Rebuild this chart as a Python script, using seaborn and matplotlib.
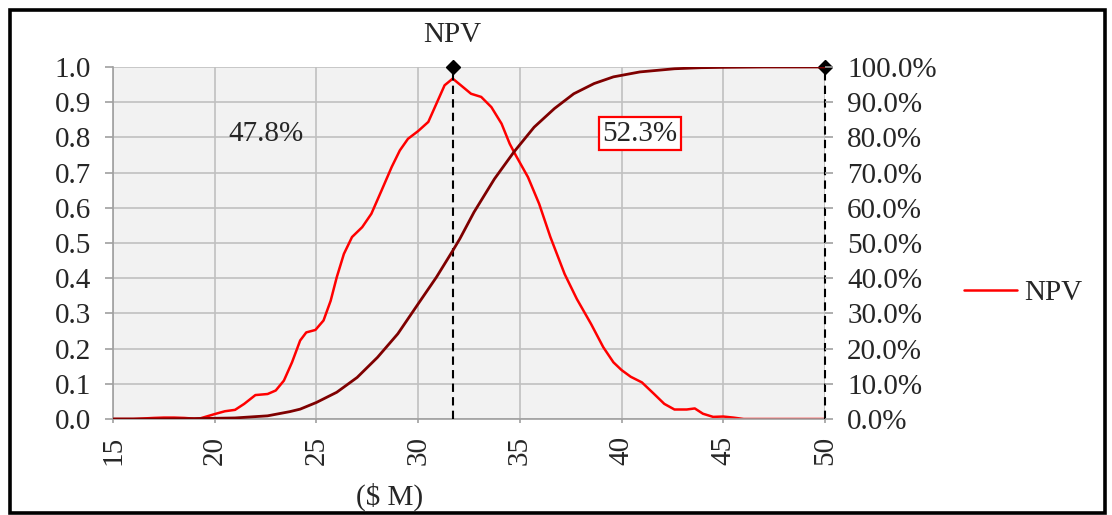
import matplotlib
matplotlib.use('Agg')
import numpy as np
import pandas as pd
import matplotlib.pyplot as plt
import seaborn as sns
from matplotlib.patches import Rectangle
from matplotlib.ticker import FuncFormatter, MultipleLocator

# density of NPV (left axis)
npv_x = [15, 16, 17, 17.5, 18, 18.5, 19, 19.3, 20, 20.5, 21, 21.45, 22, 22.6, 23, 23.4,
         23.8, 24.2, 24.5, 24.95, 25.35, 25.7, 26, 26.35, 26.75, 27.25, 27.7, 28.2, 28.7,
         29.1, 29.5, 30, 30.5, 30.9, 31.3, 31.7, 32.1, 32.6, 33.1, 33.6, 34.1, 34.5, 34.8,
         35.4, 35.95, 36.5, 37.2, 37.8, 38.5, 39.1, 39.6, 40, 40.45, 41, 41.6, 42.1, 42.6,
         43.2, 43.6, 44, 44.5, 45, 45.5, 46, 47, 48, 49, 50]
npv_density = [0, 0, 0.003, 0.004, 0.004, 0.003, 0.001, 0.002, 0.014, 0.022, 0.026, 0.043,
               0.068, 0.071, 0.081, 0.109, 0.161, 0.223, 0.246, 0.253, 0.28, 0.336, 0.403,
               0.469, 0.517, 0.545, 0.583, 0.649, 0.716, 0.763, 0.796, 0.818, 0.844, 0.896,
               0.948, 0.967, 0.948, 0.924, 0.915, 0.886, 0.839, 0.782, 0.749, 0.687, 0.611,
               0.517, 0.412, 0.341, 0.27, 0.204, 0.161, 0.139, 0.12, 0.104, 0.071, 0.043,
               0.027, 0.027, 0.03, 0.015, 0.006, 0.007, 0.004, 0, 0, 0, 0, 0]

# cumulative probability (right axis)
cum_x = [15, 17, 19, 20, 21, 22.6, 23.7, 24.2, 25, 26, 27, 28, 29, 30, 30.9, 31.7, 32.05,
         32.75, 33.75, 34.7, 35.7, 36.7, 37.65, 38.65, 39.6, 40.9, 42.6, 43.9, 45, 47, 50]
cum_prob = [0, 0, 0.001, 0.002, 0.003, 0.009, 0.021, 0.028, 0.047, 0.076, 0.118, 0.175,
            0.242, 0.327, 0.403, 0.478, 0.512, 0.588, 0.682, 0.758, 0.829, 0.882, 0.924,
            0.953, 0.972, 0.986, 0.995, 0.998, 0.999, 1.0, 1.0]

cut_lines = [31.7, 50]
left_label = '47.8%'
right_label = '52.3%'

sns.set_theme(style='whitegrid')
plt.rcParams['font.family'] = ['Liberation Serif', 'DejaVu Serif']
plt.rcParams['axes.unicode_minus'] = False
fs = 21

fig = plt.figure(figsize=(11.12, 5.15), dpi=100)
ax = fig.add_axes([113/1112, 1-419/515, 712/1112, 352/515])
ax.set_facecolor('#f2f2f2')

df1 = pd.DataFrame({'x': npv_x, 'y': npv_density})
df2 = pd.DataFrame({'x': cum_x, 'y': cum_prob})

sns.lineplot(data=df1, x='x', y='y', ax=ax, color='#ff0000', linewidth=1.8, label='NPV')
ax.set_xlim(15, 50)
ax.set_ylim(0, 1.0)
ax.xaxis.set_major_locator(MultipleLocator(5))
ax.yaxis.set_major_locator(MultipleLocator(0.1))
ax.yaxis.set_major_formatter(FuncFormatter(lambda v, p: '%.1f' % v))
ax.grid(True, color='#c0c0c0', linewidth=1.2)
ax.set_axisbelow(True)
for s in ['top', 'right']:
    ax.spines[s].set_visible(False)
for s in ['left', 'bottom']:
    ax.spines[s].set_color('#a0a0a0')
    ax.spines[s].set_linewidth(1.2)
ax.tick_params(axis='y', labelsize=fs, length=6, width=1.2, color='#a0a0a0', pad=10, left=True)
ax.tick_params(axis='x', labelsize=fs, length=3, width=1.2, color='#a0a0a0', pad=9,
               labelrotation=90, bottom=True)
ax.set_xlabel('($ M)', fontsize=fs)
ax.xaxis.set_label_coords(0.388, -0.18)
ax.set_ylabel('')

ax2 = ax.twinx()
sns.lineplot(data=df2, x='x', y='y', ax=ax2, color='#7f0000', linewidth=2.0, legend=False)
ax2.set_ylim(0, 1.0)
ax2.yaxis.set_major_locator(MultipleLocator(0.1))
ax2.yaxis.set_major_formatter(FuncFormatter(lambda v, p: '%.1f%%' % (v*100)))
ax2.grid(False)
for s in ax2.spines.values():
    s.set_visible(False)
ax2.tick_params(axis='y', labelsize=fs, length=6, width=1.2, color='#a0a0a0', pad=10, right=True)
ax2.set_ylabel('')

# dashed cut lines with diamond markers
for xc in cut_lines:
    ax.plot([xc, xc], [0, 1.0], color='black', linestyle=(0, (4, 2.5)), linewidth=1.5,
            clip_on=False, zorder=5)
    ax.plot([xc], [1.0], marker='D', color='black', markersize=7.5, clip_on=False, zorder=6)

ax.text(cut_lines[0], 1.09, 'NPV', fontsize=fs, ha='center', va='center')
ax.text(22.5, 0.81, left_label, fontsize=fs, ha='center', va='center')
ax.text(40.9, 0.81, right_label, fontsize=fs, ha='center', va='center',
        bbox=dict(boxstyle='square,pad=0.12', fc='white', ec='#ff0000', lw=1.6))

handles, labels = ax.get_legend_handles_labels()
ax.get_legend().remove()
fig.legend(handles, labels, loc='center left', bbox_to_anchor=(964/1112, 1-293/515),
           frameon=False, fontsize=fs, handlelength=1.8, handletextpad=0.25,
           borderpad=0, borderaxespad=0)

fig.patches.append(Rectangle((10/1112, 1-513/515), 1095/1112, 503/515, transform=fig.transFigure,
                             fill=False, ec='black', lw=2.6))

fig.savefig('out.png', dpi=100)
